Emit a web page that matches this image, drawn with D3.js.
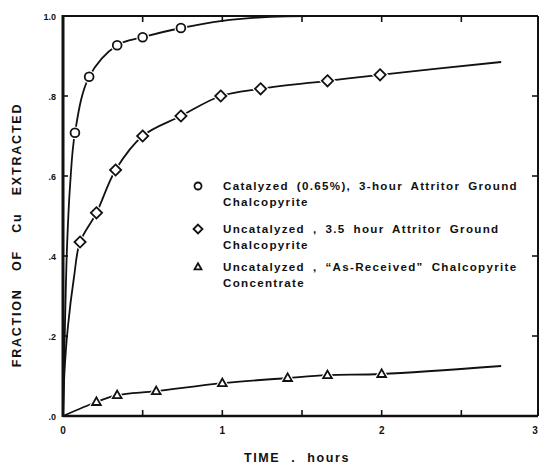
<!DOCTYPE html>
<html>
<head>
<meta charset="utf-8">
<script src="https://cdn.jsdelivr.net/npm/d3@7/dist/d3.min.js"></script>
<style>
  html, body { margin: 0; padding: 0; background: #fff; }
  svg { display: block; }
  text { font-family: "Liberation Sans", Arial, sans-serif; fill: #111; }
</style>
</head>
<body>
<svg id="chart" width="540" height="464"></svg>
<script>
// Copper extraction vs. leaching time for three chalcopyrite samples
const xTicks = [0, 1, 2, 3];
const xMinorTicks = [0.5, 1.5, 2.5];
const yTicks = [0, 0.2, 0.4, 0.6, 0.8, 1.0];
const yTickLabels = [".0", ".2", ".4", ".6", ".8", "1.0"];

// Catalyzed (0.65%), 3-hour attritor ground
const catTime = [0.075, 0.164, 0.34, 0.5, 0.74];
const catFrac = [0.708, 0.848, 0.927, 0.947, 0.970];
const catLeadTime = [0, 0.012, 0.025, 0.045];
const catLeadFrac = [0, 0.22, 0.42, 0.58];
const catTailTime = [1.0, 1.3, 1.55];
const catTailFrac = [0.988, 0.998, 1.0];

// Uncatalyzed, 3.5-hour attritor ground
const uncTime = [0.107, 0.21, 0.33, 0.5, 0.74, 0.99, 1.24, 1.66, 1.99];
const uncFrac = [0.435, 0.508, 0.615, 0.700, 0.750, 0.800, 0.818, 0.838, 0.853];
const uncLeadTime = [0, 0.008, 0.03, 0.07];
const uncLeadFrac = [0, 0.10, 0.22, 0.35];
const uncTailTime = [2.75];
const uncTailFrac = [0.885];

// Uncatalyzed, as-received concentrate
const recTime = [0.21, 0.34, 0.585, 1.0, 1.41, 1.66, 2.0];
const recFrac = [0.035, 0.052, 0.062, 0.082, 0.095, 0.102, 0.105];
const recLeadTime = [0];
const recLeadFrac = [0];
const recTailTime = [2.75];
const recTailFrac = [0.125];

const legendLines = [
  ["Catalyzed (0.65%), 3-hour Attritor Ground", "Chalcopyrite"],
  ["Uncatalyzed , 3.5 hour Attritor Ground", "Chalcopyrite"],
  ["Uncatalyzed , \u201CAs-Received\u201D Chalcopyrite", "Concentrate"]
];

const svg = d3.select("#chart");
const x = d3.scaleLinear().domain([0, 3]).range([63, 541]);
const y = d3.scaleLinear().domain([0, 1]).range([416, 16]);

const zip = (a, b) => a.map((v, i) => [v, b[i]]);

const series = [
  { shape: "circle",
    pts: zip(catTime, catFrac),
    curve: zip(catLeadTime, catLeadFrac).concat(zip(catTime, catFrac), zip(catTailTime, catTailFrac)) },
  { shape: "diamond",
    pts: zip(uncTime, uncFrac),
    curve: zip(uncLeadTime, uncLeadFrac).concat(zip(uncTime, uncFrac), zip(uncTailTime, uncTailFrac)) },
  { shape: "triangle",
    pts: zip(recTime, recFrac),
    curve: zip(recLeadTime, recLeadFrac).concat(zip(recTime, recFrac), zip(recTailTime, recTailFrac)) }
];

// Fitted curves
const line = d3.line().x(d => x(d[0])).y(d => y(d[1])).curve(d3.curveCatmullRom.alpha(0.5));
svg.append("g").selectAll("path").data(series).join("path")
  .attr("d", d => line(d.curve))
  .attr("fill", "none").attr("stroke", "#111").attr("stroke-width", 1.8);

// Frame
const fx0 = x(0), fx1 = 538, fy0 = y(0), fy1 = y(1);
svg.append("line").attr("x1", fx0).attr("x2", fx1).attr("y1", fy1).attr("y2", fy1)
  .attr("stroke", "#111").attr("stroke-width", 2.2);
svg.append("line").attr("x1", fx0).attr("x2", fx1).attr("y1", fy0).attr("y2", fy0)
  .attr("stroke", "#111").attr("stroke-width", 2.4);
svg.append("line").attr("x1", fx0).attr("x2", fx0).attr("y1", fy1 - 1).attr("y2", fy0 + 1)
  .attr("stroke", "#111").attr("stroke-width", 3);
svg.append("line").attr("x1", fx1).attr("x2", fx1).attr("y1", fy1).attr("y2", fy0)
  .attr("stroke", "#111").attr("stroke-width", 2);

// Inward ticks
const allX = xTicks.concat(xMinorTicks).filter(t => t > 0 && t < 3);
const tk = svg.append("g").attr("stroke", "#111").attr("stroke-width", 1.6);
allX.forEach(t => {
  tk.append("line").attr("x1", x(t)).attr("x2", x(t)).attr("y1", fy0).attr("y2", fy0 - 6);
  tk.append("line").attr("x1", x(t)).attr("x2", x(t)).attr("y1", fy1).attr("y2", fy1 + 6);
});
yTicks.filter(t => t > 0 && t < 1).forEach(t => {
  tk.append("line").attr("x1", fx0).attr("x2", fx0 + 5).attr("y1", y(t)).attr("y2", y(t));
  tk.append("line").attr("x1", fx1).attr("x2", fx1 - 6).attr("y1", y(t)).attr("y2", y(t));
});

// Tick labels
svg.append("g").selectAll("text").data(yTicks).join("text")
  .attr("x", 56).attr("y", d => y(d) + 3.5)
  .attr("text-anchor", "end").attr("font-size", 9).attr("font-weight", "bold")
  .text((d, i) => yTickLabels[i]);
svg.append("g").selectAll("text").data(xTicks).join("text")
  .attr("x", d => Math.min(x(d), 535)).attr("y", 434)
  .attr("text-anchor", "middle").attr("font-size", 10).attr("font-weight", "bold")
  .text(d => d);

// Axis titles
svg.append("text").attr("x", 297).attr("y", 462).attr("text-anchor", "middle")
  .attr("font-size", 12.5).attr("font-weight", "bold").attr("letter-spacing", 1.6)
  .attr("word-spacing", 6).text("TIME . hours");
svg.append("text").attr("transform", "translate(21,235) rotate(-90)")
  .attr("text-anchor", "middle").attr("font-size", 12.5).attr("font-weight", "bold")
  .attr("letter-spacing", 1.8).attr("word-spacing", 12)
  .text("FRACTION OF Cu EXTRACTED");

// Marker shapes
function drawMarker(g, shape, cx, cy, s) {
  if (shape === "circle") {
    g.append("circle").attr("cx", cx).attr("cy", cy).attr("r", 4.4 * s);
  } else if (shape === "diamond") {
    const r = 5.6 * s;
    g.append("path").attr("d", `M${cx},${cy - r}L${cx + r},${cy}L${cx},${cy + r}L${cx - r},${cy}Z`);
  } else {
    const r = 4.6 * s;
    g.append("path").attr("d", `M${cx},${cy - r}L${cx + r * 0.95},${cy + r * 0.65}L${cx - r * 0.95},${cy + r * 0.65}Z`);
  }
}

// White halos break the curves around each marker, then the open markers
series.forEach(s => {
  const halo = svg.append("g").attr("fill", "#fff").attr("stroke", "#fff").attr("stroke-width", 4);
  s.pts.forEach(p => drawMarker(halo, s.shape, x(p[0]), y(p[1]), 1));
  const mk = svg.append("g").attr("fill", "#fff").attr("stroke", "#111").attr("stroke-width", 1.8);
  s.pts.forEach(p => drawMarker(mk, s.shape, x(p[0]), y(p[1]), 1));
});

// Legend
const legendY = [187, 230, 268];
legendLines.forEach((lines, i) => {
  const g = svg.append("g").attr("fill", "#fff").attr("stroke", "#111").attr("stroke-width", 1.8);
  drawMarker(g, series[i].shape, 198, legendY[i] - 1, 0.8);
  lines.forEach((t, j) => {
    svg.append("text").attr("x", 223).attr("y", legendY[i] + 3 + j * 15.5)
      .attr("font-size", 11.6).attr("font-weight", "bold").attr("letter-spacing", 1.3)
      .attr("word-spacing", 3.5).text(t);
  });
});
</script>
</body>
</html>
